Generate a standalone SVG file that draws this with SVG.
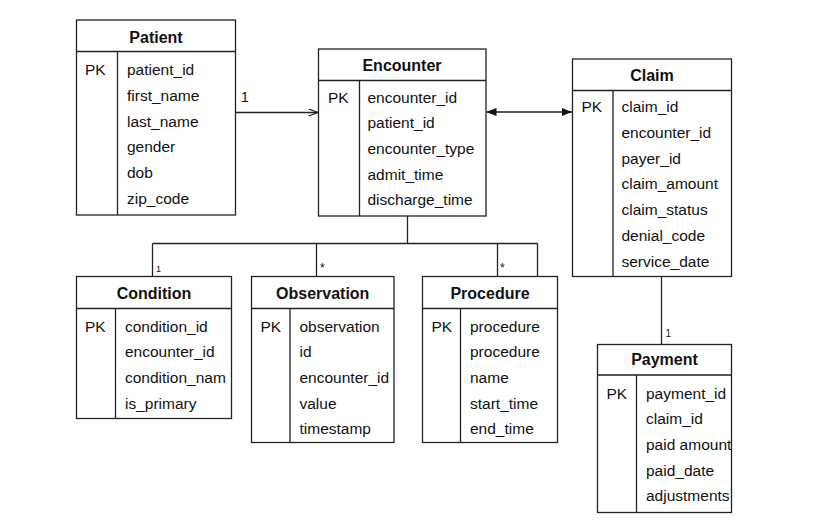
<svg xmlns="http://www.w3.org/2000/svg" width="821" height="531" viewBox="0 0 821 531">
<defs>
<style>
.box{fill:#fff;stroke:#222;stroke-width:1.3}
.ln{stroke:#222;stroke-width:1.3;fill:none}
.t{font-family:"Liberation Sans",Arial,sans-serif;font-size:16px;font-weight:bold;fill:#111;text-anchor:middle}
.f{font-family:"Liberation Sans",Arial,sans-serif;font-size:15.5px;fill:#111}
.lab{font-family:"Liberation Sans",Arial,sans-serif;fill:#111}
</style>
<marker id="open" markerUnits="userSpaceOnUse" markerWidth="12" markerHeight="10" refX="10" refY="4" orient="auto">
<path d="M0.5,0.5 L10,4 L0.5,7.5" fill="none" stroke="#222" stroke-width="1.3"/>
</marker>
<marker id="fillEnd" markerUnits="userSpaceOnUse" markerWidth="12" markerHeight="10" refX="10" refY="4" orient="auto">
<path d="M0,0 L10,4 L0,8 Z" fill="#111"/>
</marker>
<marker id="fillStart" markerUnits="userSpaceOnUse" markerWidth="12" markerHeight="10" refX="0" refY="4" orient="auto">
<path d="M10,0 L0,4 L10,8 Z" fill="#111"/>
</marker>
</defs>
<rect width="821" height="531" fill="#fff"/>

<g id="connectors">
<line class="ln" x1="235.5" y1="112.5" x2="318" y2="112.5" marker-end="url(#open)"/>
<text class="lab" x="241" y="102" font-size="14">1</text>
<line class="ln" x1="486.5" y1="112" x2="572" y2="112" marker-start="url(#fillStart)" marker-end="url(#fillEnd)"/>
<path class="ln" d="M407.5 216 V243.5 M152.5 243.5 H537.5 M152.5 243.5 V276.5 M316.5 243.5 V276.5 M497.5 243.5 V276.5 M537.5 243.5 V276.5"/>
<text class="lab" x="156" y="272" font-size="9">1</text>
<text class="lab" x="320" y="272" font-size="12">*</text>
<text class="lab" x="500" y="272" font-size="12">*</text>
<path class="ln" d="M661.5 276.5 V344.5"/>
<text class="lab" x="665.5" y="337" font-size="10">1</text>
</g>

<g id="patient">
<rect class="box" x="76.5" y="20" width="159" height="195"/>
<path class="ln" d="M76.5 51.5 H235.5 M117.5 51.5 V215"/>
<text class="t" x="156" y="42.5">Patient</text>
<text class="f" x="85" y="75">PK</text>
<text class="f" x="127" y="75">patient_id</text>
<text class="f" x="127" y="100.8">first_name</text>
<text class="f" x="127" y="126.6">last_name</text>
<text class="f" x="127" y="152.4">gender</text>
<text class="f" x="127" y="178.2">dob</text>
<text class="f" x="127" y="204">zip_code</text>
</g>

<g id="encounter">
<rect class="box" x="318.5" y="49" width="167.5" height="167"/>
<path class="ln" d="M318.5 80.5 H486 M359.5 80.5 V216"/>
<text class="t" x="402" y="71">Encounter</text>
<text class="f" x="328" y="102.5">PK</text>
<text class="f" x="367.5" y="102.5">encounter_id</text>
<text class="f" x="367.5" y="128.2">patient_id</text>
<text class="f" x="367.5" y="153.9">encounter_type</text>
<text class="f" x="367.5" y="179.6">admit_time</text>
<text class="f" x="367.5" y="205.3">discharge_time</text>
</g>

<g id="claim">
<rect class="box" x="572.5" y="59" width="159" height="217.5"/>
<path class="ln" d="M572.5 90.5 H731.5 M613 90.5 V276.5"/>
<text class="t" x="652" y="80.5">Claim</text>
<text class="f" x="581.5" y="112">PK</text>
<text class="f" x="621.5" y="112">claim_id</text>
<text class="f" x="621.5" y="137.8">encounter_id</text>
<text class="f" x="621.5" y="163.6">payer_id</text>
<text class="f" x="621.5" y="189.4">claim_amount</text>
<text class="f" x="621.5" y="215.2">claim_status</text>
<text class="f" x="621.5" y="241">denial_code</text>
<text class="f" x="621.5" y="266.8">service_date</text>
</g>

<g id="condition">
<rect class="box" x="76.5" y="276.5" width="155" height="142"/>
<path class="ln" d="M76.5 308.5 H231.5 M115.5 308.5 V418.5"/>
<text class="t" x="154" y="298.5">Condition</text>
<text class="f" x="85" y="331.5">PK</text>
<text class="f" x="125" y="331.5">condition_id</text>
<text class="f" x="125" y="357.2">encounter_id</text>
<text class="f" x="125" y="382.9">condition_nam</text>
<text class="f" x="125" y="408.6">is_primary</text>
</g>

<g id="observation">
<rect class="box" x="251.5" y="276.5" width="142.5" height="166"/>
<path class="ln" d="M251.5 308.5 H394 M290 308.5 V442.5"/>
<text class="t" x="322.7" y="298.5">Observation</text>
<text class="f" x="260.5" y="331.5">PK</text>
<text class="f" x="299.5" y="331.5">observation</text>
<text class="f" x="299.5" y="357.2">id</text>
<text class="f" x="299.5" y="382.9">encounter_id</text>
<text class="f" x="299.5" y="408.6">value</text>
<text class="f" x="299.5" y="434.3">timestamp</text>
</g>

<g id="procedure">
<rect class="box" x="422.5" y="276.5" width="135" height="166"/>
<path class="ln" d="M422.5 308.5 H557.5 M460.5 308.5 V442.5"/>
<text class="t" x="490" y="298.5">Procedure</text>
<text class="f" x="431.5" y="331.5">PK</text>
<text class="f" x="470" y="331.5">procedure</text>
<text class="f" x="470" y="357.2">procedure</text>
<text class="f" x="470" y="382.9">name</text>
<text class="f" x="470" y="408.6">start_time</text>
<text class="f" x="470" y="434.3">end_time</text>
</g>

<g id="payment">
<rect class="box" x="597.5" y="344.5" width="134" height="168"/>
<path class="ln" d="M597.5 375 H731.5 M636.5 375 V512.5"/>
<text class="t" x="664.5" y="365">Payment</text>
<text class="f" x="606.5" y="398.5">PK</text>
<text class="f" x="646" y="398.5">payment_id</text>
<text class="f" x="646" y="424.2">claim_id</text>
<text class="f" x="646" y="449.9">paid amount</text>
<text class="f" x="646" y="475.6">paid_date</text>
<text class="f" x="646" y="501.3">adjustments</text>
</g>
</svg>
